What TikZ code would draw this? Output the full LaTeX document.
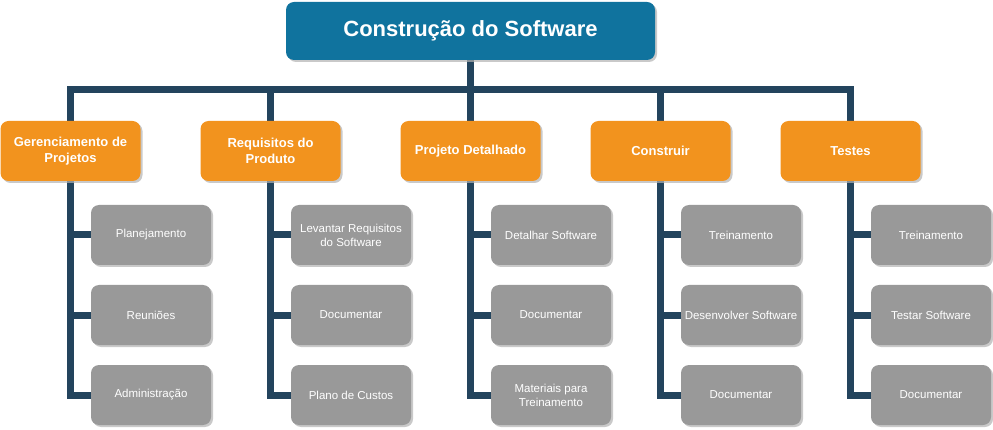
\documentclass[tikz,border=0pt]{standalone}
\usepackage{fontspec}
\setmainfont{Liberation Sans}
\usetikzlibrary{shadows,backgrounds}
\definecolor{topblue}{HTML}{10739E}
\definecolor{orng}{HTML}{F2931E}
\definecolor{gry}{HTML}{999999}
\definecolor{conn}{HTML}{23445D}
\begin{document}
\begin{tikzpicture}[x=1pt,y=-1pt,
 box/.style={rounded corners=8pt, draw=none, text=white, align=center, inner sep=0pt,
   drop shadow={shadow xshift=2pt, shadow yshift=-2pt, fill=black!30, opacity=0.7}},
 topbox/.style={box, fill=topblue, minimum width=369pt, minimum height=58pt, font=\fontsize{22}{26}\selectfont\bfseries},
 phase/.style={box, fill=orng, minimum width=140pt, minimum height=60pt, font=\fontsize{13}{15.5}\selectfont\bfseries},
 task/.style={box, fill=gry, minimum width=120pt, minimum height=60pt, font=\fontsize{11.5}{14}\selectfont},
 link/.style={draw=conn, line width=7pt}]
\useasboundingbox (0,0) rectangle (993,430);

\node[topbox] (top) at (470.5,31) {Construção do Software};

\node[phase] (p1) at (70.5,151) {Gerenciamento de\\Projetos};
\node[phase] (p2) at (270.5,151) {Requisitos do\\Produto};
\node[phase] (p3) at (470.5,151) {Projeto Detalhado};
\node[phase] (p4) at (660.5,151) {Construir};
\node[phase] (p5) at (850.5,151) {Testes};

\node[task] (t11) at (151,235) {Planejamento};
\node[task] (t12) at (151,315) {Reuniões};
\node[task] (t13) at (151,395) {Administração};

\node[task] (t21) at (351,235) {Levantar Requisitos\\do Software};
\node[task] (t22) at (351,315) {Documentar};
\node[task] (t23) at (351,395) {Plano de Custos};

\node[task] (t31) at (551,235) {Detalhar Software};
\node[task] (t32) at (551,315) {Documentar};
\node[task] (t33) at (551,395) {Materiais para\\Treinamento};

\node[task] (t41) at (741,235) {Treinamento};
\node[task] (t42) at (741,315) {Desenvolver Software};
\node[task] (t43) at (741,395) {Documentar};

\node[task] (t51) at (931,235) {Treinamento};
\node[task] (t52) at (931,315) {Testar Software};
\node[task] (t53) at (931,395) {Documentar};

\begin{scope}[on background layer]
\coordinate (bar) at (top.south |- 0,90);
\draw[link] (top.south) -- (bar);
\foreach \n in {p1,p2,p3,p4,p5} \draw[link] (bar) -| (\n.north);
\foreach \c in {1,2,3,4,5}
  \foreach \r in {1,2,3}
    \draw[link] (t\c\r.west) -| (p\c.south);
\end{scope}
\end{tikzpicture}
\end{document}
